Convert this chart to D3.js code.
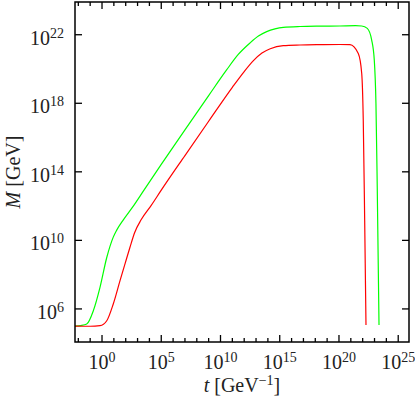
<!DOCTYPE html>
<html><head><meta charset="utf-8">
<script src="https://cdn.jsdelivr.net/npm/d3@7"></script>
<style>body{margin:0;background:#fff} text{font-family:"Liberation Serif","Times New Roman",serif;fill:#222}</style>
</head><body><svg id="c" width="415" height="401"></svg>
<script>
// exponents of the labelled ticks
const xMajorExps = [0, 5, 10, 15, 20, 25];
const xMinorExps = d3.range(-2, 26);
const yMajorExps = [6, 10, 14, 18, 22];

// green curve: log10(t), log10(M)
const greenLogT = [-2.28, -1.8, -1.29, -0.73, -0.17, 0.4, 0.95, 1.24, 1.8, 2.64, 3.5, 5.0, 7.0, 9.0, 10.5, 11.5, 12.49, 13.2, 13.9, 14.6, 15.3, 16.71, 18.5, 20.08, 21.4, 21.92, 22.39, 22.76, 22.98, 23.12, 23.23, 23.38];
const greenLogM = [5.0, 5.03, 5.12, 5.9, 7.26, 9.0, 10.19, 10.6, 11.2, 12.0, 12.89, 14.43, 16.45, 18.45, 19.93, 20.85, 21.52, 21.92, 22.18, 22.34, 22.43, 22.48, 22.5, 22.51, 22.53, 22.51, 22.37, 21.69, 20.52, 18.0, 13.1, 5.06];

// red curve: log10(t), log10(M)
const redLogT = [-2.28, -1.01, -0.17, 0.4, 0.95, 1.52, 1.94, 2.36, 2.75, 3.3, 4.14, 5.0, 7.0, 9.0, 11.0, 12.0, 12.8, 13.5, 14.2, 15.3, 16.71, 18.5, 20.08, 20.93, 21.63, 21.92, 22.05, 22.17, 22.28];
const redLogM = [5.0, 4.99, 5.02, 5.31, 6.29, 7.65, 8.63, 9.6, 10.45, 11.2, 12.03, 12.93, 14.95, 16.95, 18.93, 19.85, 20.5, 20.93, 21.18, 21.36, 21.4, 21.42, 21.43, 21.42, 20.9, 19.74, 17.0, 11.15, 5.06];

const p10 = e => Math.pow(10, e);
const m = {l: 75, r: 409, t: 2, b: 342};
const svg = d3.select("#c");
const x = d3.scaleLog().domain([p10(-2.28), p10(25.91)]).range([m.l, m.r]);
const y = d3.scaleLog().domain([p10(4.07), p10(23.91)]).range([m.b, m.t]);

svg.append("defs").append("clipPath").attr("id", "clip")
  .append("rect").attr("x", m.l).attr("y", m.t).attr("width", m.r - m.l).attr("height", m.b - m.t);

const line = d3.line().x(d => x(p10(d[0]))).y(d => y(p10(d[1]))).curve(d3.curveMonotoneX);
const series = [
  {t: greenLogT, m: greenLogM, c: "#00ff00"},
  {t: redLogT, m: redLogM, c: "#ff0000"}
];
series.forEach(s => {
  svg.append("path").attr("clip-path", "url(#clip)")
    .attr("d", line(s.t.map((v, i) => [v, s.m[i]])))
    .attr("fill", "none").attr("stroke", s.c).attr("stroke-width", 1.2);
});

// frame
svg.append("rect").attr("x", m.l).attr("y", m.t).attr("width", m.r - m.l).attr("height", m.b - m.t)
  .attr("fill", "none").attr("stroke", "#000").attr("stroke-width", 1.5);

const tk = svg.append("g").attr("stroke", "#000").attr("stroke-width", 1.3);
xMinorExps.forEach(e => {
  const major = xMajorExps.includes(e);
  const L = major ? 7 : 4;
  const xx = x(p10(e));
  tk.append("line").attr("x1", xx).attr("x2", xx).attr("y1", m.b).attr("y2", m.b - L);
  tk.append("line").attr("x1", xx).attr("x2", xx).attr("y1", m.t).attr("y2", m.t + L);
});
yMajorExps.forEach(e => {
  const yy = y(p10(e));
  tk.append("line").attr("x1", m.l).attr("x2", m.l + 7).attr("y1", yy).attr("y2", yy);
  tk.append("line").attr("x1", m.r).attr("x2", m.r - 7).attr("y1", yy).attr("y2", yy);
});

function label(xx, yy, anchor, exp) {
  const t = svg.append("text").attr("x", xx).attr("y", yy).attr("text-anchor", anchor).attr("font-size", 20);
  t.append("tspan").text("10");
  t.append("tspan").attr("dy", -7).attr("font-size", 14).text(String(exp));
}
xMajorExps.forEach(e => label(x(p10(e)), 369, "middle", e));
yMajorExps.forEach(e => label(64, y(p10(e)) + 9.8, "end", e));

// axis titles
const xt = svg.append("text").attr("x", 242).attr("y", 392).attr("text-anchor", "middle").attr("font-size", 20);
xt.append("tspan").attr("font-style", "italic").text("t");
xt.append("tspan").text(" [GeV");
xt.append("tspan").attr("dy", -7).attr("font-size", 14).text("\u22121");
xt.append("tspan").attr("dy", 7).text("]");

const yt = svg.append("text").attr("transform", "translate(20,172) rotate(-90)").attr("text-anchor", "middle").attr("font-size", 20);
yt.append("tspan").attr("font-style", "italic").text("M");
yt.append("tspan").text(" [GeV]");
</script></body></html>
